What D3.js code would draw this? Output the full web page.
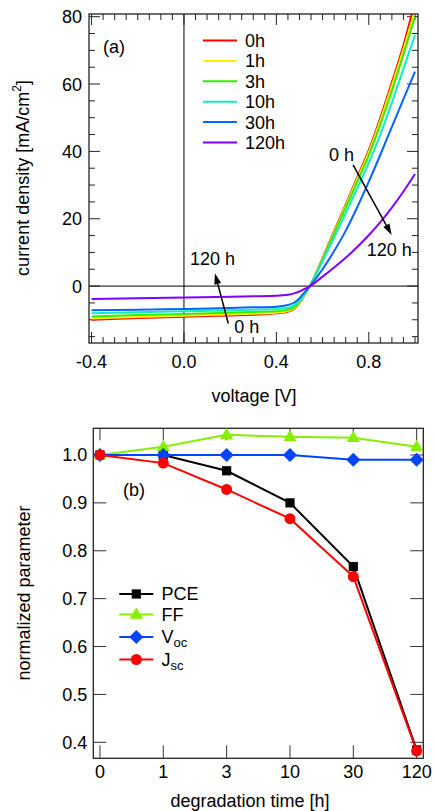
<!DOCTYPE html>
<html>
<head>
<meta charset="utf-8">
<script src="https://cdn.jsdelivr.net/npm/d3@7"></script>
<style>
  html, body { margin: 0; padding: 0; background: #fff; }
  svg { display: block; }
  text { font-family: "Liberation Sans", Arial, Helvetica, sans-serif; fill: #000; }
</style>
</head>
<body>
<svg id="chart" width="435" height="811"></svg>
<script>
// ---------- Panel (a): J-V curves ----------
const voltage = [-0.4, -0.2, 0, 0.2, 0.3, 0.4, 0.45, 0.48, 0.5, 0.52, 0.545, 0.6, 0.65, 0.7, 0.75, 0.8, 0.85, 0.9, 0.95, 1.0];
const curveNames = ["0h", "1h", "3h", "10h", "30h", "120h"];
const curveColors = ["#ff0000", "#ffee00", "#33ee00", "#11eebb", "#0066ff", "#7f00ff"];
const j0h   = [-10.0, -9.5, -9.1, -8.7, -8.5, -8.1, -7.6, -6.6, -5.0, -2.8, 0, 8.3, 16.3, 24.2, 32.3, 40.4, 50.0, 60.5, 71.5, 84.5];
const j1h   = [-9.6, -9.2, -8.8, -8.4, -8.2, -7.9, -7.4, -6.4, -4.9, -2.7, 0, 8.1, 16.0, 23.8, 31.8, 39.8, 49.2, 59.6, 70.4, 82.0];
const j3h   = [-9.0, -8.6, -8.3, -7.9, -7.7, -7.5, -7.0, -6.1, -4.7, -2.6, 0, 7.9, 15.6, 23.2, 31.0, 38.8, 48.0, 58.0, 68.8, 80.0];
const j10h  = [-8.1, -7.8, -7.5, -7.2, -7.0, -6.8, -6.4, -5.6, -4.4, -2.4, 0, 7.4, 14.5, 21.6, 29.0, 36.6, 45.0, 54.5, 64.5, 74.6];
const j30h  = [-7.2, -7.0, -6.8, -6.5, -6.3, -6.1, -5.6, -4.8, -3.6, -2.0, 0, 5.0, 10.4, 16.4, 23.4, 31.0, 39.0, 47.3, 55.5, 63.7];
const j120h = [-3.8, -3.6, -3.4, -3.2, -3.05, -2.9, -2.6, -2.1, -1.6, -0.9, 0, 2.8, 5.5, 8.4, 11.6, 15.1, 19.0, 23.3, 28.1, 33.3];
const jSeries = [j0h, j1h, j3h, j10h, j30h, j120h];
const xTicksA = [-0.4, 0.0, 0.4, 0.8];
const xTickLabelsA = ["-0.4", "0.0", "0.4", "0.8"];
const yTicksA = [0, 20, 40, 60, 80];

// ---------- Panel (b): normalized parameters ----------
const times = ["0", "1", "3", "10", "30", "120"];
const pce = [1.0, 1.0, 0.967, 0.900, 0.767, 0.384];
const ff  = [1.0, 1.017, 1.042, 1.038, 1.036, 1.017];
const voc = [1.0, 1.0, 1.0, 1.0, 0.99, 0.99];
const jsc = [1.0, 0.983, 0.928, 0.867, 0.746, 0.382];
const yTicksB = [0.4, 0.5, 0.6, 0.7, 0.8, 0.9, 1.0];

const svg = d3.select("#chart");
const FONT = 18;

// ================= Panel (a) =================
const A = { left: 89, right: 418, top: 14, bottom: 343 };
const xA = d3.scaleLinear().domain([-0.411, 1.013]).range([A.left, A.right]);
const yA = d3.scaleLinear().domain([-16.9, 80.8]).range([A.bottom, A.top]);

svg.append("clipPath").attr("id", "clipA").append("rect")
  .attr("x", A.left).attr("y", A.top).attr("width", A.right - A.left).attr("height", A.bottom - A.top);

const gA = svg.append("g");
// zero lines
gA.append("line").attr("x1", xA(0)).attr("x2", xA(0)).attr("y1", A.top).attr("y2", A.bottom)
  .attr("stroke", "#000").attr("stroke-width", 1);
gA.append("line").attr("x1", A.left).attr("x2", A.right).attr("y1", yA(0)).attr("y2", yA(0))
  .attr("stroke", "#000").attr("stroke-width", 1);

// ticks (inward, all four sides)
const xMinorA = d3.range(-40, 101, 5).map(d => d / 100);
xMinorA.forEach(v => {
  const major = xTicksA.some(t => Math.abs(t - v) < 1e-9);
  const len = major ? 11 : 6;
  gA.append("line").attr("x1", xA(v)).attr("x2", xA(v)).attr("y1", A.bottom).attr("y2", A.bottom - len)
    .attr("stroke", "#222").attr("stroke-width", 1);
  gA.append("line").attr("x1", xA(v)).attr("x2", xA(v)).attr("y1", A.top).attr("y2", A.top + len)
    .attr("stroke", "#222").attr("stroke-width", 1);
});
const yMinorA = d3.range(-15, 81, 5);
yMinorA.forEach(v => {
  const major = yTicksA.includes(v);
  const len = major ? 11 : 6;
  gA.append("line").attr("x1", A.left).attr("x2", A.left + len).attr("y1", yA(v)).attr("y2", yA(v))
    .attr("stroke", "#222").attr("stroke-width", 1);
  gA.append("line").attr("x1", A.right).attr("x2", A.right - len).attr("y1", yA(v)).attr("y2", yA(v))
    .attr("stroke", "#222").attr("stroke-width", 1);
});

// curves
const lineA = d3.line().x(d => xA(d[0])).y(d => yA(d[1])).curve(d3.curveMonotoneX);
const curvesG = gA.append("g").attr("clip-path", "url(#clipA)");
jSeries.forEach((s, i) => {
  curvesG.append("path").datum(voltage.map((v, k) => [v, s[k]]))
    .attr("d", lineA).attr("fill", "none").attr("stroke", curveColors[i]).attr("stroke-width", 2);
});

// frame
gA.append("rect").attr("x", A.left).attr("y", A.top).attr("width", A.right - A.left).attr("height", A.bottom - A.top)
  .attr("fill", "none").attr("stroke", "#222").attr("stroke-width", 1.3);

// tick labels
xTicksA.forEach((v, i) => {
  gA.append("text").attr("x", xA(v)).attr("y", A.bottom + 25).attr("text-anchor", "middle")
    .attr("font-size", FONT).text(xTickLabelsA[i]);
});
yTicksA.forEach(v => {
  gA.append("text").attr("x", A.left - 7).attr("y", yA(v)).attr("dy", "0.36em").attr("text-anchor", "end")
    .attr("font-size", FONT).text(v);
});

// axis titles
gA.append("text").attr("x", 254).attr("y", 402).attr("text-anchor", "middle").attr("font-size", FONT).text("voltage [V]");
const yTitleA = gA.append("text").attr("transform", "translate(29,178) rotate(-90)").attr("text-anchor", "middle").attr("font-size", FONT);
yTitleA.append("tspan").text("current density [mA/cm");
yTitleA.append("tspan").attr("dy", -8).attr("font-size", 12).text("2");
yTitleA.append("tspan").attr("dy", 8).text("]");

// panel label
gA.append("text").attr("x", 103).attr("y", 53).attr("font-size", FONT).text("(a)");

// legend
curveNames.forEach((n, i) => {
  const y = 40.5 + i * 20.4;
  gA.append("line").attr("x1", 203).attr("x2", 237).attr("y1", y).attr("y2", y)
    .attr("stroke", curveColors[i]).attr("stroke-width", 2);
  gA.append("text").attr("x", 245).attr("y", y).attr("dy", "0.36em").attr("font-size", FONT).text(n);
});

// annotations (positions in data units)
function arrow(g, v1, j1, v2, j2) {
  const x1 = xA(v1), y1 = yA(j1), x2 = xA(v2), y2 = yA(j2);
  const ang = Math.atan2(y2 - y1, x2 - x1);
  const L = 11, W = 3.5;
  const bx = x2 - L * Math.cos(ang), by = y2 - L * Math.sin(ang);
  g.append("line").attr("x1", x1).attr("y1", y1).attr("x2", bx).attr("y2", by)
    .attr("stroke", "#000").attr("stroke-width", 1.5);
  const px = -Math.sin(ang) * W, py = Math.cos(ang) * W;
  g.append("path").attr("d", `M${x2},${y2}L${bx + px},${by + py}L${bx - px},${by - py}Z`).attr("fill", "#000");
}
arrow(gA, 0.732, 36.0, 0.899, 15.2);
arrow(gA, 0.192, -11.1, 0.134, 3.8);
gA.append("text").attr("x", xA(0.628)).attr("y", yA(37.1)).attr("font-size", FONT).text("0 h");
gA.append("text").attr("x", xA(0.791)).attr("y", yA(8.9)).attr("font-size", FONT).text("120 h");
gA.append("text").attr("x", xA(0.026)).attr("y", yA(6.2)).attr("font-size", FONT).text("120 h");
gA.append("text").attr("x", xA(0.218)).attr("y", yA(-14.0)).attr("font-size", FONT).text("0 h");

// ================= Panel (b) =================
const B = { left: 93.3, right: 423.3, top: 428.3, bottom: 758.3 };
const xB = d3.scaleLinear().domain([-0.105, times.length - 1 + 0.105]).range([B.left, B.right]);
const yB = d3.scaleLinear().domain([0.3666, 1.0557]).range([B.bottom, B.top]);
const gB = svg.append("g");

// ticks
times.forEach((t, i) => {
  gB.append("line").attr("x1", xB(i)).attr("x2", xB(i)).attr("y1", B.bottom).attr("y2", B.bottom - 13)
    .attr("stroke", "#333").attr("stroke-width", 1);
  gB.append("line").attr("x1", xB(i)).attr("x2", xB(i)).attr("y1", B.top).attr("y2", B.top + 12)
    .attr("stroke", "#333").attr("stroke-width", 1);
  gB.append("text").attr("x", xB(i)).attr("y", B.bottom + 20).attr("font-size", FONT)
    .attr("text-anchor", "middle").text(t);
});
yTicksB.forEach(v => {
  gB.append("line").attr("x1", B.left).attr("x2", B.left + 13).attr("y1", yB(v)).attr("y2", yB(v))
    .attr("stroke", "#333").attr("stroke-width", 1);
  gB.append("line").attr("x1", B.right).attr("x2", B.right - 13).attr("y1", yB(v)).attr("y2", yB(v))
    .attr("stroke", "#333").attr("stroke-width", 1);
  gB.append("text").attr("x", B.left - 6).attr("y", yB(v)).attr("dy", "0.36em").attr("text-anchor", "end")
    .attr("font-size", FONT).text(v.toFixed(1));
});

gB.append("rect").attr("x", B.left).attr("y", B.top).attr("width", B.right - B.left).attr("height", B.bottom - B.top)
  .attr("fill", "none").attr("stroke", "#222").attr("stroke-width", 1.3);

// series
const seriesB = [
  { name: "PCE", values: pce, color: "#000000", shape: "square" },
  { name: "FF", values: ff, color: "#88ee00", shape: "triangle" },
  { name: "Voc", values: voc, color: "#0044ff", shape: "diamond" },
  { name: "Jsc", values: jsc, color: "#ff0000", shape: "circle" }
];
const symSize = { square: 85, triangle: 75, diamond: 100, circle: 95 };
const symType = { square: d3.symbolSquare, triangle: d3.symbolTriangle, diamond: d3.symbolSquare, circle: d3.symbolCircle };
function drawSymbol(g, shape, cx, cy, color) {
  const p = d3.symbol().type(symType[shape]).size(symSize[shape])();
  let tr = `translate(${cx},${cy})`;
  if (shape === "diamond") tr += " rotate(45)";
  if (shape === "triangle") tr = `translate(${cx},${cy + 0.5})`;
  g.append("path").attr("d", p).attr("transform", tr).attr("fill", color);
}
const lineB = d3.line().x((d, i) => xB(i)).y(d => yB(d));
seriesB.forEach(s => {
  gB.append("path").datum(s.values).attr("d", lineB).attr("fill", "none")
    .attr("stroke", s.color).attr("stroke-width", 2);
  s.values.forEach((v, i) => drawSymbol(gB, s.shape, xB(i), yB(v), s.color));
});

// legend b
seriesB.forEach((s, i) => {
  const y = [594, 614.5, 637, 659.5][i];
  gB.append("line").attr("x1", 119.3).attr("x2", 153.3).attr("y1", y).attr("y2", y)
    .attr("stroke", s.color).attr("stroke-width", 2);
  drawSymbol(gB, s.shape, 136.3, y, s.color);
  const t = gB.append("text").attr("x", 161.5).attr("y", y).attr("dy", "0.36em").attr("font-size", FONT);
  if (s.name === "Voc" || s.name === "Jsc") {
    t.append("tspan").text(s.name[0]);
    t.append("tspan").attr("dy", 4).attr("font-size", 13).text(s.name.slice(1));
  } else {
    t.text(s.name);
  }
});

gB.append("text").attr("x", 123).attr("y", 496).attr("font-size", FONT).text("(b)");
gB.append("text").attr("x", 250).attr("y", 807).attr("text-anchor", "middle").attr("font-size", FONT).text("degradation time [h]");
gB.append("text").attr("transform", "translate(30,593) rotate(-90)").attr("text-anchor", "middle")
  .attr("font-size", FONT).text("normalized parameter");
</script>
</body>
</html>
